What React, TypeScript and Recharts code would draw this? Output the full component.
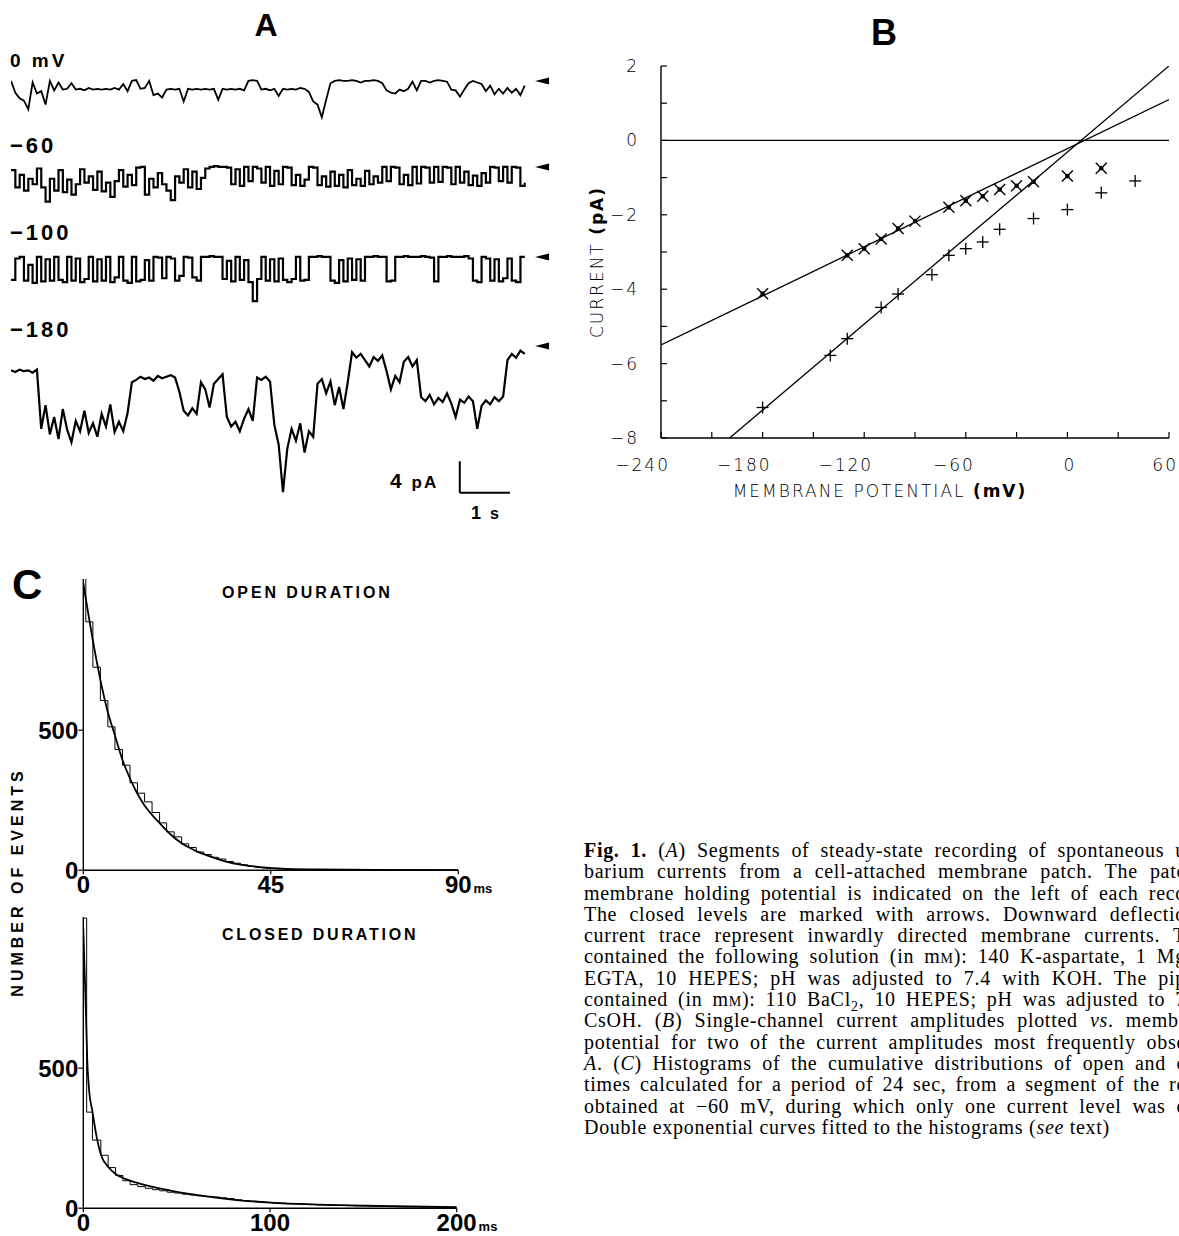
import React from "react";
import {
  ComposedChart,
  LineChart,
  Line,
  Scatter,
  XAxis,
  YAxis,
  ReferenceLine,
  ReferenceDot,
} from "recharts";

// ---- panel A: current traces, one value (pA, relative to closed level) per sample
const sampleStep = 0.086; // s per sample

const trace0 = [
  0, -1.5, -2.2, -2.5, -3.6, -0.2, -1.6, -1.3, -3.0, 0, -1.2, -0.2, -1.1, -1.0, -0.3, -1.1, -1.0, -1.2, -0.9, -1.1,
  -1.0, -1.1, -1.0, -1.1, -0.9, -1.1, -0.4, -1.3, 0, 0.1, -1.0, -0.9, 0, -1.8, -1.6, -2.1, -1.1, -1.0, -1.1, -1.0,
  -2.6, -1.0, -1.1, -1.0, -1.1, -1.0, -1.1, -1.0, -2.4, -1.0, -1.1, -1.0, -1.1, -1.0, -1.2, 0, 0.1, 0, -1.1, -1.0,
  -1.2, -1.0, -1.9, -1.0, -1.1, -1.0, -1.1, -0.9, -1.0, -1.4, -2.6, -3.0, -4.6, -2.4, -0.3, 0, 0.1, 0, 0, 0.1,
  0, -0.2, 0, 0, 0.1, 0, -0.3, -1.2, -1.5, -1.6, -1.1, -1.3, -1.0, -0.1, -1.2, 0, 0, -0.2, 0, 0.1,
  0, -0.1, -1.1, -1.2, -2.0, -1.1, -0.3, 0, -0.2, -0.4, -1.3, -0.6, -1.7, -1.0, -1.6, -0.9, -1.5, -1.0, -1.8, -0.6,
];

const traceM60 = [
  -0.4, -2.6, -1.0, -3.0, -1.5, -2.2, -0.2, -2.6, -4.4, -1.5, -3.0, -0.4, -3.2, -1.6, -3.5, -2.2, -0.3, -2.0, -1.2, -2.9,
  -0.6, -3.1, -2.0, -3.8, -1.8, -0.4, -2.5, -1.0, -2.3, -0.1, 0, -3.5, -1.5, -2.6, -0.8, -2.2, -3.0, -4.2, -1.2, -2.0,
  -0.3, -2.6, -0.6, -2.8, -1.4, -0.2, 0, 0.1, 0, 0, -0.1, -2.2, -0.3, -2.4, 0, -1.8, 0, -0.2, -2.0, 0,
  -2.4, -0.5, -2.2, 0, -0.1, -2.3, -1.0, -2.4, -1.6, 0, -0.1, -2.3, -1.2, -2.5, -0.6, -2.4, -1.0, -2.6, -0.4, -2.3,
  -1.5, -2.4, -0.5, -2.2, -1.2, -2.0, 0, -1.8, 0, -0.1, -2.2, -1.0, -2.3, 0, -2.1, 0, -0.1, -2.0, 0, -1.9,
  0, -0.1, -2.2, 0, -2.0, -0.6, -2.3, -1.1, -2.4, -0.8, -2.0, 0, -0.1, -1.8, 0, -2.0, 0, -0.1, -2.4, -2.0,
];

const traceM100 = [
  -2.9, -0.2, 0, -3.0, -1.0, -3.3, 0, -3.1, -0.3, -3.0, 0, -2.9, -3.2, 0, -3.0, -0.2, -3.2, -2.8, 0, -3.1,
  -0.3, -3.0, 0, -3.2, -2.6, 0, -3.0, -3.3, 0, -3.1, -2.9, -0.4, -3.0, 0, -0.1, -2.7, 0, -0.2, -3.0, -2.4,
  0, -0.1, -2.6, -3.0, 0, 0, 0.1, 0, 0, -2.8, -0.5, -3.1, 0, -2.9, -0.4, -3.2, -5.6, -2.8, 0, -3.0,
  -0.3, -3.1, -0.2, -2.9, -3.2, -2.8, 0, -3.0, -2.9, 0, 0, 0.1, 0, 0, -3.0, -3.3, -0.4, -3.1, -0.2, -2.9,
  -0.3, -3.0, 0, 0, 0.1, 0, 0, -3.1, -3.0, 0, 0, 0.1, 0, 0, 0, 0.1, 0, -0.1, -3.1, 0,
  0, 0.1, 0, 0, 0, 0.1, -0.2, -3.0, -3.2, 0, -0.2, -3.0, -0.3, -3.1, -2.7, -0.2, -3.0, -3.2, 0, 0,
];

const traceM180 = [
  -3.1, -3.3, -3.0, -3.2, -3.1, -3.4, -3.0, -10.5, -7.5, -11.2, -9.0, -11.8, -8.0, -10.6, -12.2, -9.5, -10.8, -8.2, -11.0, -9.8,
  -11.5, -8.6, -10.2, -7.4, -10.9, -9.6, -10.8, -8.5, -4.6, -4.3, -3.9, -4.2, -4.0, -4.4, -3.8, -4.1, -3.9, -3.7, -4.0, -5.8,
  -8.2, -8.8, -7.9, -8.6, -4.6, -5.5, -7.8, -4.8, -4.2, -3.6, -9.0, -10.2, -9.6, -10.8, -9.2, -8.0, -9.5, -4.0, -4.3, -3.9,
  -4.5, -10.0, -12.5, -18.5, -13.0, -10.5, -12.0, -9.8, -13.5, -10.8, -11.5, -4.8, -4.2, -6.0, -4.5, -7.5, -5.2, -8.0, -4.6, -0.8,
  -1.5, -1.0, -1.8, -2.6, -1.4, -1.9, -1.2, -3.2, -5.5, -3.8, -4.6, -2.0, -1.4, -2.6, -1.8, -6.5, -7.0, -6.2, -7.4, -6.6,
  -7.1, -6.0, -7.3, -9.0, -6.8, -7.2, -6.4, -7.0, -10.5, -7.6, -6.9, -7.4, -6.5, -7.0, -6.4, -1.8, -1.0, -1.5, -0.6, -1.0,
];

// ---- panel B: single-channel I-V
const crossVoltage = [-180, -130, -120, -110, -100, -90, -70, -60, -50, -40, -30, -20, 0, 20];
const crossCurrent = [-4.12, -3.09, -2.91, -2.65, -2.37, -2.17, -1.8, -1.62, -1.5, -1.32, -1.22, -1.11, -0.96, -0.75];
const plusVoltage = [-180, -140, -130, -110, -100, -80, -70, -60, -50, -40, -20, 0, 20, 40];
const plusCurrent = [-7.18, -5.78, -5.33, -4.49, -4.13, -3.61, -3.09, -2.91, -2.73, -2.39, -2.1, -1.86, -1.41, -1.09];
const fitSmall = [{ x: -240, y: -5.5 }, { x: 60, y: 1.1 }];
const fitLarge = [{ x: -199.5, y: -8 }, { x: 60, y: 2 }];
const bXTicks = [-240, -210, -180, -150, -120, -90, -60, -30, 0, 30, 60];
const bYTicks = [-8, -7, -6, -5, -4, -3, -2, -1, 0, 1, 2];

// ---- panel C: dwell-time histograms (bin left edge in ms, events) and fitted curves
const openEdges = [
  0, 0.6, 2.3, 4.1, 5.9, 7.6, 9.4, 11.2, 13.0, 14.7, 16.5, 18.3, 20.0, 21.8, 23.6, 25.3, 27.1, 28.9, 30.7, 32.4,
  34.2, 36.0, 37.7, 39.5, 41.3, 43.0, 44.8, 46.6, 48.3, 50.1, 51.9, 53.7, 55.4, 57.2, 59.0, 60.7, 90,
];
const openCounts = [
  1056, 887, 725, 606, 512, 431, 375, 312, 275, 244, 206, 169, 137, 119, 94, 81, 65, 56, 46, 40,
  31, 25, 19, 14, 10, 8, 6, 5, 4, 3, 3, 2, 2, 1, 1, 0, 0,
];
const openFitT = [0, 2.4, 4, 5.7, 7.6, 9.4, 11.1, 12.7, 14.7, 16.7, 18.7, 20.7, 23.8, 27, 30.2, 34.2, 38.2, 43, 48.5, 56.4, 70, 90];
const openFitN = [1025, 812, 687, 575, 481, 394, 331, 281, 231, 194, 162, 131, 94, 69, 50, 31, 19, 10, 5, 2.5, 1, 0.5];

const closedEdges = [
  0, 1.8, 4.9, 9.4, 13.3, 17.3, 21.2, 25.1, 29.2, 33.2, 37.1, 41, 45, 49, 53, 57, 61, 65, 69, 73,
  77, 81, 85, 89, 93, 97, 101, 105, 109, 113, 117, 121, 125, 129, 133, 137, 141, 145, 149, 153,
  157, 161, 165, 169, 173, 177, 181, 185, 189, 193, 197, 200,
];
const closedCounts = [
  1036, 343, 243, 189, 145, 117, 98, 84, 77, 71, 66, 62, 57, 54, 50, 47, 44, 42, 40, 37,
  34, 30, 27, 25, 23, 21, 19, 18, 16, 15, 14, 13, 12, 11, 10, 10, 9, 8, 8, 7,
  7, 6, 6, 5, 5, 5, 4, 4, 4, 3, 3, 3,
];
const closedFitT = [0, 0.7, 1.4, 2.1, 3, 4.9, 7, 9.4, 13.3, 17.3, 22, 28, 36, 46, 55, 64, 81, 100, 125, 150, 175, 200];
const closedFitN = [1000, 850, 700, 530, 430, 345, 260, 192, 148, 122, 106, 92, 78, 64, 53, 44, 30, 20, 13, 9, 6, 4];

// caption, as far as it is visible before the page edge
const caption = [
  "<b>Fig. 1.</b> (<i>A</i>) Segments of steady-state recording of spontaneous u",
  "barium currents from a cell-attached membrane patch. The patc",
  "membrane holding potential is indicated on the left of each reco",
  "The closed levels are marked with arrows. Downward deflectio",
  "current trace represent inwardly directed membrane currents. T",
  "contained the following solution (in m<sc>m</sc>): 140 K-aspartate, 1 Mg",
  "EGTA, 10 HEPES; pH was adjusted to 7.4 with KOH. The pip",
  "contained (in m<sc>m</sc>): 110 BaCl<sub>2</sub>, 10 HEPES; pH was adjusted to 7",
  "CsOH. (<i>B</i>) Single-channel current amplitudes plotted <i>vs</i>. membr",
  "potential for two of the current amplitudes most frequently obse",
  "<i>A</i>. (<i>C</i>) Histograms of the cumulative distributions of open and c",
  "times calculated for a period of 24 sec, from a segment of the re",
  "obtained at \u221260 mV, during which only one current level was c",
  "Double exponential curves fitted to the histograms (<i>see</i> text)",
];

const PX_PER_PA = 7.9;
const PX_PER_S = 50.2;
const T_MAX = 10.9;
const SANS = "'Liberation Sans', Arial, sans-serif";
const PLOTTER = "'DejaVu Sans', sans-serif";

const Txt = ({ x, y, size, bold = true, family = SANS, anchor = "start", spacing = 0, rotate = 0, children }: any) => {
  const tx = anchor === "middle" ? "-50%" : anchor === "end" ? "-100%" : "0";
  return (
    <div
      style={{
        position: "absolute",
        left: x,
        top: y,
        fontSize: size,
        fontWeight: bold ? 700 : 400,
        fontFamily: family,
        letterSpacing: spacing,
        lineHeight: 1,
        whiteSpace: "nowrap",
        transform: `translate(${tx}, -50%)${rotate ? ` rotate(${rotate}deg)` : ""}`,
        transformOrigin: rotate ? "50% 50%" : undefined,
      }}
    >
      {children}
    </div>
  );
};

const ArrowHead = (props: any) => {
  const { cx, cy } = props;
  return <polygon points={`${cx},${cy} ${cx + 14},${cy - 3.5} ${cx + 14},${cy + 3.5}`} fill="#000" />;
};

const TracePanel = ({ values, closedY, lo, hi, curve, width = 1.6, children }: any) => {
  const data = values.map((v: number, i: number) => ({ t: i * sampleStep, i: v }));
  return (
    <div style={{ position: "absolute", left: 11, top: closedY - hi * PX_PER_PA }}>
      <LineChart
        width={T_MAX * PX_PER_S}
        height={(hi - lo) * PX_PER_PA}
        data={data}
        margin={{ top: 0, right: 0, bottom: 0, left: 0 }}
      >
        <XAxis type="number" dataKey="t" domain={[0, T_MAX]} hide />
        <YAxis type="number" domain={[lo, hi]} hide allowDataOverflow />
        <Line
          dataKey="i"
          type={curve}
          stroke="#000"
          strokeWidth={width}
          dot={false}
          isAnimationActive={false}
        />
        <ReferenceDot x={10.44} y={0} shape={ArrowHead} />
        {children}
      </LineChart>
    </div>
  );
};

const minus = (v: number) => (v < 0 ? `\u2212${-v}` : `${v}`);

const BXTick = (props: any) => {
  const { x, y, payload } = props;
  const v = payload.value;
  return (
    <g>
      <line x1={x} y1={y} x2={x} y2={y - 6} stroke="#000" strokeWidth={1.2} />
      {v % 60 === 0 && (
        <text
          x={x + 9}
          y={y + 33}
          textAnchor="end"
          fontFamily={PLOTTER}
          fontWeight={200}
          fontSize={17}
          style={{ letterSpacing: 2 }}
          fill="#000"
        >
          {minus(v)}
        </text>
      )}
    </g>
  );
};

const BYTick = (props: any) => {
  const { x, y, payload } = props;
  const v = payload.value;
  return (
    <g>
      <line x1={x} y1={y} x2={x + 6} y2={y} stroke="#000" strokeWidth={1.2} />
      {v % 2 === 0 && (
        <text
          x={x - 22}
          y={y + 6}
          textAnchor="end"
          fontFamily={PLOTTER}
          fontWeight={200}
          fontSize={17}
          style={{ letterSpacing: 2 }}
          fill="#000"
        >
          {minus(v)}
        </text>
      )}
    </g>
  );
};

const StarMark = (props: any) => {
  const { cx, cy } = props;
  const a = 5.5;
  return (
    <g stroke="#000" strokeWidth={1.4}>
      <line x1={cx - a} y1={cy - a} x2={cx + a} y2={cy + a} />
      <line x1={cx - a} y1={cy + a} x2={cx + a} y2={cy - a} />
      <circle cx={cx} cy={cy} r={1.6} fill="#000" />
    </g>
  );
};

const PlusMark = (props: any) => {
  const { cx, cy } = props;
  const a = 6;
  return (
    <g stroke="#000" strokeWidth={1.3}>
      <line x1={cx - a} y1={cy} x2={cx + a} y2={cy} />
      <line x1={cx} y1={cy - a} x2={cx} y2={cy + a} />
    </g>
  );
};

const CYTick = (props: any) => {
  const { x, y, payload } = props;
  return (
    <g>
      <line x1={x} y1={y} x2={x - 5} y2={y} stroke="#000" strokeWidth={1.2} />
      <text x={x - 5} y={y + 9} textAnchor="end" fontFamily={SANS} fontWeight={700} fontSize={24} fill="#000">
        {payload.value}
      </text>
    </g>
  );
};

const makeCXTick = (last: number) => (props: any) => {
  const { x, y, payload } = props;
  const v = payload.value;
  const label = `${v}`;
  return (
    <g>
      <line x1={x} y1={y} x2={x} y2={y + 4} stroke="#000" strokeWidth={1.2} />
      {v === last ? (
        <text x={x - label.length * 6.7} y={y + 23} fontFamily={SANS} fontWeight={700} fontSize={24} fill="#000">
          {label}
          <tspan dx={2} fontSize={13}>ms</tspan>
        </text>
      ) : (
        <text x={x} y={y + 23} textAnchor="middle" fontFamily={SANS} fontWeight={700} fontSize={24} fill="#000">
          {label}
        </text>
      )}
    </g>
  );
};

const Histogram = ({ left, top, xMax, edges, counts, fitT, fitN }: any) => {
  const bins = edges.map((e: number, i: number) => ({ x: e, n: counts[i] }));
  const fit = fitT.map((t: number, i: number) => ({ x: t, n: fitN[i] }));
  const plotW = xMax === 90 ? 375 : 373.4;
  const plotH = 1040 * 0.28;
  return (
    <div style={{ position: "absolute", left: 0, top: top - 20 }}>
      <ComposedChart
        width={left + plotW + 60}
        height={plotH + 20 + 34}
        margin={{ top: 20, left: left - 1, right: 60, bottom: 33 }}
      >
        <XAxis
          type="number"
          dataKey="x"
          domain={[0, xMax]}
          ticks={[0, xMax / 2, xMax]}
          height={1}
          tickSize={0}
          tickMargin={0}
          tickLine={false}
          tick={makeCXTick(xMax)}
          axisLine={{ stroke: "#000", strokeWidth: 1.4 }}
          allowDataOverflow
        />
        <YAxis
          type="number"
          domain={[0, 1040]}
          ticks={[0, 500]}
          width={1}
          tickSize={0}
          tickMargin={0}
          tickLine={false}
          tick={CYTick}
          axisLine={{ stroke: "#000", strokeWidth: 1.4 }}
          allowDataOverflow
        />
        <Line data={bins} dataKey="n" type="stepAfter" stroke="#000" strokeWidth={1} dot={false} isAnimationActive={false} />
        <Line data={fit} dataKey="n" type="monotone" stroke="#000" strokeWidth={1.8} dot={false} isAnimationActive={false} />
      </ComposedChart>
    </div>
  );
};

export default function App() {
  const crossPts = crossVoltage.map((v, i) => ({ x: v, y: crossCurrent[i] }));
  const plusPts = plusVoltage.map((v, i) => ({ x: v, y: plusCurrent[i] }));

  return (
    <div
      style={{
        position: "absolute",
        left: 0,
        top: 0,
        width: 1179,
        height: 1236,
        overflow: "hidden",
        background: "#fff",
        color: "#000",
      }}
    >
      {/* Panel A */}
      <Txt x={266} y={25} size={32} anchor="middle">A</Txt>
      <Txt x={10} y={60} size={19} spacing={3}>0 mV</Txt>
      <Txt x={10} y={146} size={22} spacing={3}>{"\u221260"}</Txt>
      <Txt x={10} y={233} size={22} spacing={3}>{"\u2212100"}</Txt>
      <Txt x={10} y={330} size={22} spacing={3}>{"\u2212180"}</Txt>

      <TracePanel values={trace0} closedY={81} lo={-5.5} hi={1} curve="linear" width={1.8} />
      <TracePanel values={traceM60} closedY={167} lo={-5} hi={1} curve="stepAfter" width={2.2} />
      <TracePanel values={traceM100} closedY={257} lo={-6.5} hi={1} curve="stepAfter" width={2.2} />
      <TracePanel values={traceM180} closedY={346} lo={-20.5} hi={1} curve="linear" width={2.2}>
        <ReferenceLine segment={[{ x: 8.94, y: -18.6 }, { x: 8.94, y: -14.6 }]} stroke="#000" strokeWidth={2} />
        <ReferenceLine segment={[{ x: 8.94, y: -18.6 }, { x: 9.94, y: -18.6 }]} stroke="#000" strokeWidth={2} />
      </TracePanel>
      <Txt x={390} y={480} size={21} spacing={2}>
        4 <span style={{ fontSize: 17 }}>pA</span>
      </Txt>
      <Txt x={471} y={513} size={18} spacing={2}>
        1 <span style={{ fontSize: 16 }}>s</span>
      </Txt>

      {/* Panel B */}
      <Txt x={884} y={33} size={36} anchor="middle">B</Txt>
      <div style={{ position: "absolute", left: 560, top: 40 }}>
        <ComposedChart
          width={619}
          height={480}
          margin={{ top: 26, left: 100, right: 10, bottom: 81 }}
        >
          <XAxis
            type="number"
            dataKey="x"
            domain={[-240, 60]}
            ticks={bXTicks}
            height={1}
            tickSize={0}
            tickMargin={0}
            tickLine={false}
            tick={BXTick}
            axisLine={{ stroke: "#000", strokeWidth: 1.4 }}
            allowDataOverflow
          />
          <YAxis
            type="number"
            domain={[-8, 2]}
            ticks={bYTicks}
            width={1}
            tickSize={0}
            tickMargin={0}
            tickLine={false}
            tick={BYTick}
            axisLine={{ stroke: "#000", strokeWidth: 1.4 }}
            allowDataOverflow
          />
          <ReferenceLine y={0} stroke="#000" strokeWidth={1.3} />
          <Line data={fitSmall} dataKey="y" type="linear" stroke="#000" strokeWidth={1.3} dot={false} isAnimationActive={false} />
          <Line data={fitLarge} dataKey="y" type="linear" stroke="#000" strokeWidth={1.3} dot={false} isAnimationActive={false} />
          <Scatter data={crossPts} dataKey="y" shape={StarMark} isAnimationActive={false} />
          <Scatter data={plusPts} dataKey="y" shape={PlusMark} isAnimationActive={false} />
        </ComposedChart>
      </div>
      <Txt x={597} y={262} size={17} bold={false} family={PLOTTER} anchor="middle" spacing={2} rotate={-90}>
        <span style={{ fontWeight: 200 }}>CURRENT </span>
        <span style={{ fontWeight: 700 }}>(pA)</span>
      </Txt>
      <Txt x={880} y={491} size={17} bold={false} family={PLOTTER} anchor="middle" spacing={2}>
        <span style={{ fontWeight: 200 }}>MEMBRANE POTENTIAL </span>
        <span style={{ fontWeight: 700 }}>(mV)</span>
      </Txt>

      {/* Panel C */}
      <Txt x={12} y={585} size={42}>C</Txt>
      <Txt x={222} y={593} size={16} spacing={2.9}>OPEN DURATION</Txt>
      <Txt x={222} y={935} size={16} spacing={2.8}>CLOSED DURATION</Txt>
      <Txt x={18} y={882} size={16} anchor="middle" spacing={4} rotate={-90}>NUMBER OF EVENTS</Txt>
      <Histogram left={83.3} top={578.8} xMax={90} edges={openEdges} counts={openCounts} fitT={openFitT} fitN={openFitN} />
      <Histogram left={83.3} top={916.8} xMax={200} edges={closedEdges} counts={closedCounts} fitT={closedFitT} fitN={closedFitN} />

      {/* Caption */}
      <div
        style={{
          position: "absolute",
          left: 584,
          top: 840,
          fontFamily: "'Liberation Serif', 'Times New Roman', serif",
          fontSize: 20,
          letterSpacing: 0.7,
          lineHeight: "21.3px",
          whiteSpace: "nowrap",
        }}
      >
        {caption.map((line, i) => (
          <div
            key={i}
            style={{
              height: 21.3,
              width: 602,
              textAlign: "justify",
              textAlignLast: i < caption.length - 1 ? "justify" : "left",
            }}
            dangerouslySetInnerHTML={{
              __html: line
                .replace(/<sc>(.*?)<\/sc>/g, '<span style="font-variant:small-caps">$1</span>')
                .replace(/<sub>/g, '<sub style="line-height:0;font-size:0.7em">'),
            }}
          />
        ))}
      </div>
    </div>
  );
}
